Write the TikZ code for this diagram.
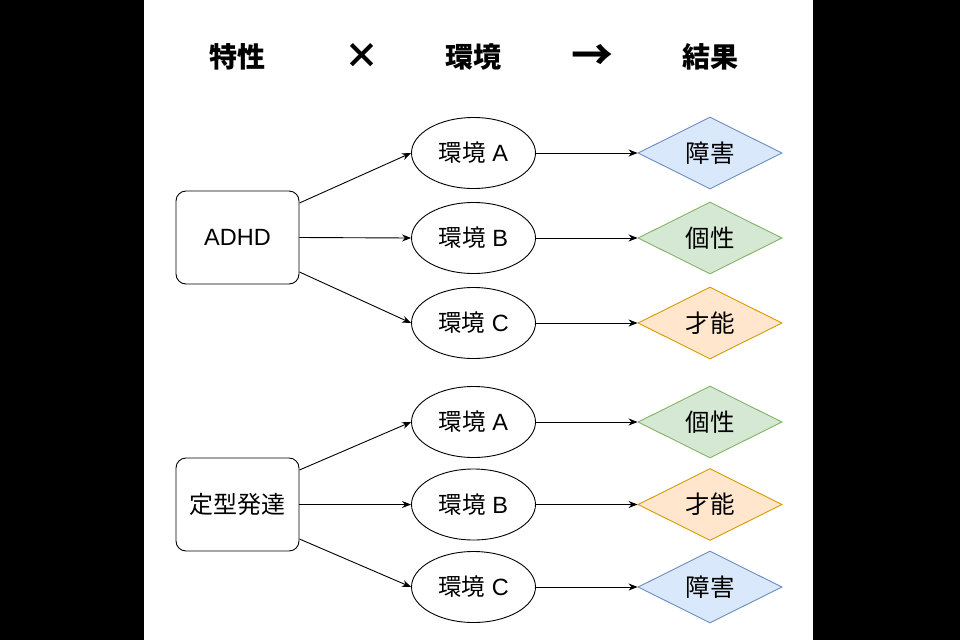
\documentclass[tikz,border=0pt]{standalone}
\usepackage{fontspec}
\setmainfont{Liberation Sans}
\newfontfamily\cjk{Noto Sans CJK JP}
\usetikzlibrary{shapes.geometric,arrows.meta}
\definecolor{bluefill}{HTML}{DAE8FC}
\definecolor{bluedraw}{HTML}{6C8EBF}
\definecolor{greenfill}{HTML}{D5E8D4}
\definecolor{greendraw}{HTML}{82B366}
\definecolor{orangefill}{HTML}{FFE6CC}
\definecolor{orangedraw}{HTML}{D79B00}
\begin{document}
\begin{tikzpicture}[x=1pt,y=-1pt,
  hdr/.style={font=\cjk\bfseries\fontsize{28}{32}\selectfont, inner sep=0},
  sym/.style={font=\cjk\bfseries\fontsize{38}{40}\selectfont, inner sep=0},
  box/.style={draw, rounded corners=10pt, minimum width=123pt, minimum height=93pt, line width=0.9pt, inner sep=0, font=\fontsize{23.5}{26}\selectfont},
  env/.style={draw, ellipse, minimum width=124pt, minimum height=71pt, line width=0.9pt, inner sep=0, font=\fontsize{23.5}{26}\selectfont},
  res/.style={diamond, aspect=2, minimum width=144pt, minimum height=72pt, line width=0.9pt, inner sep=0, font=\cjk\fontsize{24.5}{26}\selectfont},
  rblue/.style={res, draw=bluedraw, fill=bluefill},
  rgreen/.style={res, draw=greendraw, fill=greenfill},
  rorange/.style={res, draw=orangedraw, fill=orangefill},
  arr/.style={-{Stealth[length=9pt,width=7pt]}, line width=0.9pt}
]
\useasboundingbox (0,0) rectangle (960,640);
\fill[black] (0,0) rectangle (960,640);
\fill[white] (144,0) rectangle (813,640);

% headers
\node[hdr] (h1) at (237,57) {特性};
\node[sym, font=\cjk\bfseries\fontsize{35}{40}\selectfont] (h2) at (361.5,56) {×};
\node[hdr] (h3) at (473,57) {環境};
\node[sym, font=\cjk\bfseries\fontsize{42}{44}\selectfont] (h4) at (592,57) {→};
\node[hdr] (h5) at (710,57) {結果};

% group 1
\node[box] (adhd) at (237.5,237.5) {ADHD};
\node[env] (e1a) at (473.5,153) {{\cjk 環境} A};
\node[env] (e1b) at (473.5,238) {{\cjk 環境} B};
\node[env] (e1c) at (473.5,323) {{\cjk 環境} C};
\node[rblue] (r1a) at (710,153) {障害};
\node[rgreen] (r1b) at (710,238) {個性};
\node[rorange] (r1c) at (710,323) {才能};

\draw[arr] ([yshift=34.5pt]adhd.east) -- (e1a.west);
\draw[arr] (adhd.east) -- (e1b.west);
\draw[arr] ([yshift=-34.5pt]adhd.east) -- (e1c.west);
\draw[arr] (e1a.east) -- (r1a.west);
\draw[arr] (e1b.east) -- (r1b.west);
\draw[arr] (e1c.east) -- (r1c.west);

% group 2
\node[box, font=\cjk\fontsize{24}{26}\selectfont] (typ) at (237.5,504.5) {定型発達};
\node[env] (e2a) at (473.5,422) {{\cjk 環境} A};
\node[env] (e2b) at (473.5,504.5) {{\cjk 環境} B};
\node[env] (e2c) at (473.5,587) {{\cjk 環境} C};
\node[rgreen] (r2a) at (710,422) {個性};
\node[rorange] (r2b) at (710,504.5) {才能};
\node[rblue] (r2c) at (710,587) {障害};

\draw[arr] ([yshift=34.5pt]typ.east) -- (e2a.west);
\draw[arr] (typ.east) -- (e2b.west);
\draw[arr] ([yshift=-34.5pt]typ.east) -- (e2c.west);
\draw[arr] (e2a.east) -- (r2a.west);
\draw[arr] (e2b.east) -- (r2b.west);
\draw[arr] (e2c.east) -- (r2c.west);
\end{tikzpicture}
\end{document}
